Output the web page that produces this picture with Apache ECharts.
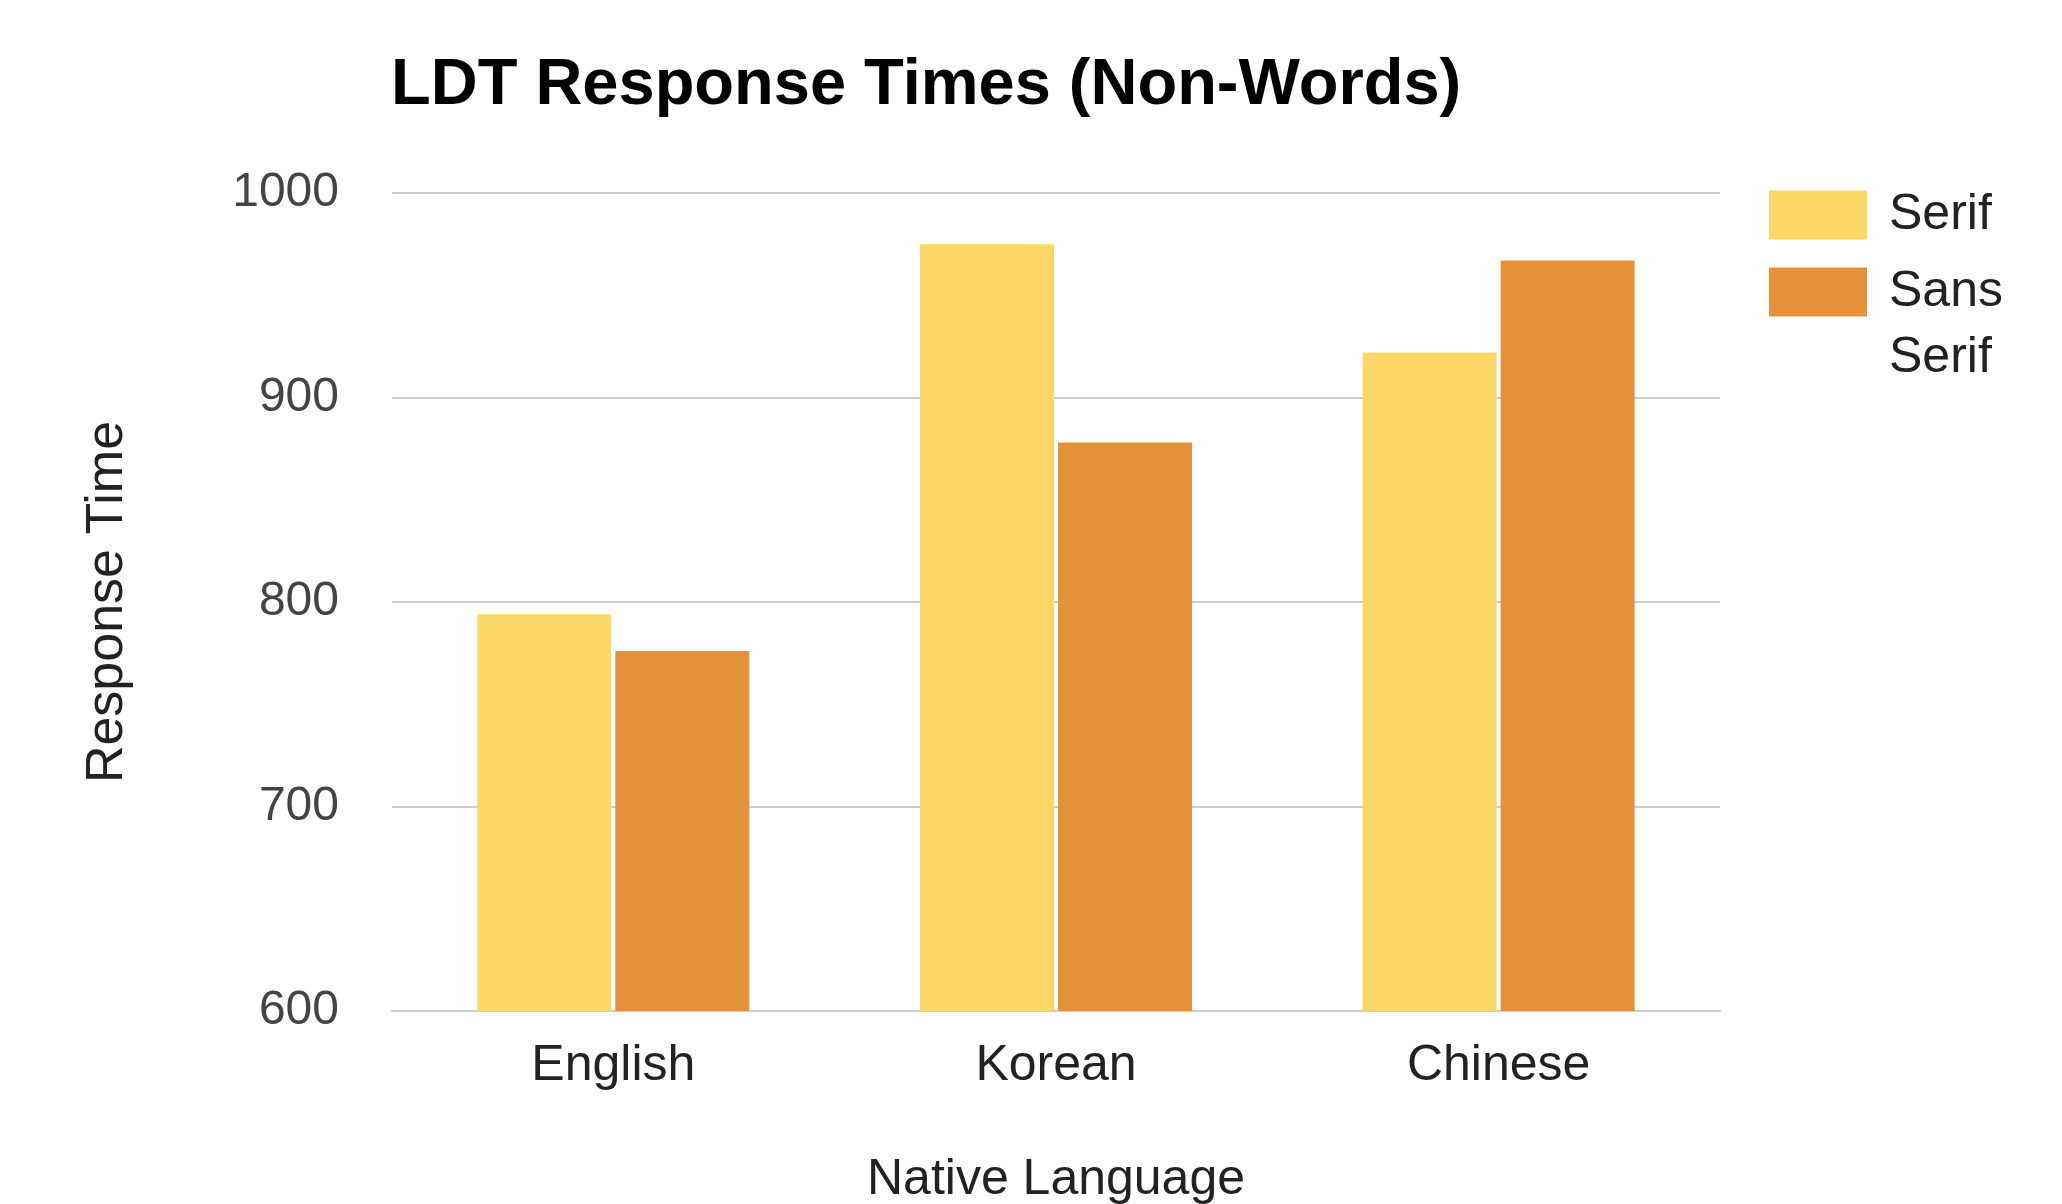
<!DOCTYPE html>
<html>
<head>
	<meta charset="utf-8">
	<title>LDT Response Times (Non-Words)</title>
	<script src="https://cdn.jsdelivr.net/npm/echarts@6/dist/echarts.min.js"></script>
	<style type="text/css">
		* {
			margin: 0;
			padding: 0;
		}

		body {
			background: #fff;
			overflow: hidden;
		}
	</style>
</head>
<body>
<div id="main" style="width: 2062px;height: 1204px;"></div>
</body>
<script type="text/javascript">
    var languages = ['English', 'Korean', 'Chinese'];
    var serifTimes = [794, 975, 922];
    var sansSerifTimes = [776, 878, 967];
    var yTicks = [600, 700, 800, 900, 1000];

    var colorL = ['#FDD866', '#E59139'];
    var fontName = '"Liberation Sans", Arial, sans-serif';

    var myChart = echarts.init(document.getElementById('main'));
    var option = {
        backgroundColor: '#fff',
        animation: false,
        title: {
            text: 'LDT Response Times (Non-Words)',
            left: 391,
            top: 54,
            padding: 0,
            textStyle: {
                fontFamily: fontName,
                fontSize: 65,
                fontWeight: 'bold',
                color: '#000'
            }
        },
        // two legends so the wrapped "Sans Serif" text lines up like the original
        legend: [{
            data: ['Serif'],
            orient: 'vertical',
            left: 1769,
            top: 182,
            padding: 0,
            itemWidth: 98,
            itemHeight: 49,
            selectedMode: false,
            icon: 'rect',
            textStyle: {
                fontFamily: fontName,
                fontSize: 50,
                lineHeight: 66,
                color: '#222',
                padding: [0, 0, 0, 17]
            }
        }, {
            data: ['Sans Serif'],
            orient: 'vertical',
            left: 1769,
            top: 193,
            padding: 0,
            itemWidth: 98,
            itemHeight: 49,
            selectedMode: false,
            icon: 'rect',
            formatter: function (name) {
                // empty first line keeps "Sans" level with the swatch
                return '\n' + name.replace(' ', '\n');
            },
            textStyle: {
                fontFamily: fontName,
                fontSize: 50,
                lineHeight: 66,
                color: '#222',
                padding: [0, 0, 0, 17]
            }
        }],
        grid: {
            left: 392,
            right: 342,
            top: 193,
            bottom: 193,
            containLabel: false,
            outerBoundsMode: 'none'
        },
        xAxis: {
            type: 'category',
            data: languages,
            name: 'Native Language',
            nameLocation: 'middle',
            nameGap: 144,
            nameTextStyle: {
                fontFamily: fontName,
                fontSize: 50,
                color: '#222'
            },
            axisLine: {
                show: true,
                lineStyle: {color: '#ccc', width: 2}
            },
            axisTick: {show: false},
            axisLabel: {
                margin: 30,
                fontFamily: fontName,
                fontSize: 50,
                color: '#222'
            }
        },
        yAxis: {
            type: 'value',
            min: yTicks[0],
            max: yTicks[yTicks.length - 1],
            interval: 100,
            name: 'Response Time',
            nameLocation: 'middle',
            nameGap: 258,
            nameTextStyle: {
                fontFamily: fontName,
                fontSize: 52,
                color: '#222'
            },
            axisLine: {show: false},
            axisTick: {show: false},
            splitLine: {
                lineStyle: {color: '#ccc', width: 2}
            },
            axisLabel: {
                margin: 53,
                fontFamily: fontName,
                fontSize: 48,
                color: '#444',
                formatter: function (v) {
                    return String(v);
                }
            }
        },
        series: [
            {
                name: 'Serif',
                type: 'bar',
                data: serifTimes,
                barWidth: 134,
                barGap: '3%',
                itemStyle: {color: colorL[0]}
            },
            {
                name: 'Sans Serif',
                type: 'bar',
                data: sansSerifTimes,
                barWidth: 134,
                barGap: '3%',
                itemStyle: {color: colorL[1]}
            }
        ]
    };
    myChart.setOption(option);
</script>
</html>
